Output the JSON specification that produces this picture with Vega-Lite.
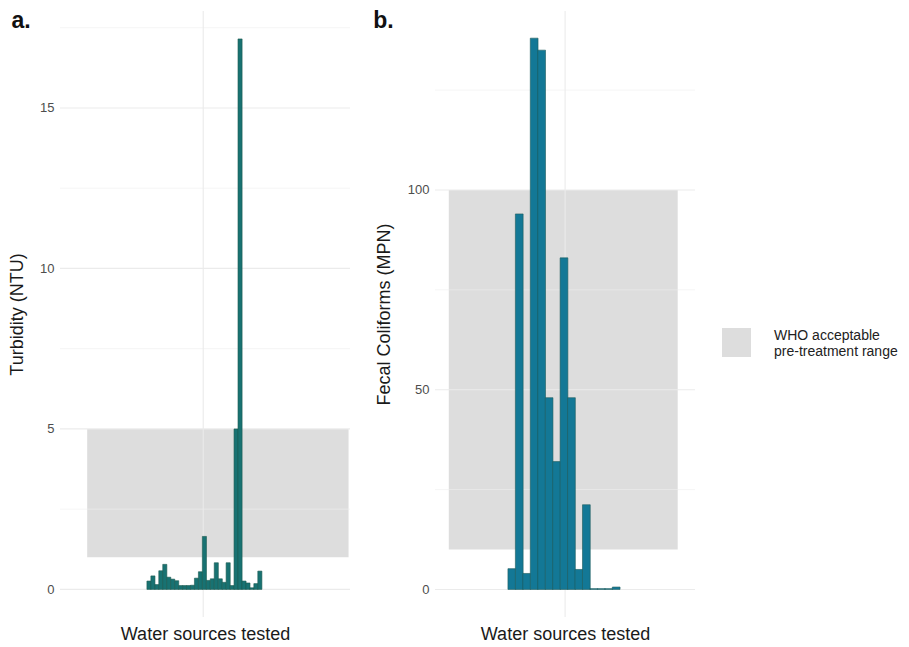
{
  "$schema": "https://vega.github.io/schema/vega-lite/v6.json",
  "autosize": {"type": "none"},
  "padding": {"left": 60, "top": 11, "right": 849, "bottom": 636},
  "background": "white",
  "config": {
    "font": "Liberation Sans",
    "view": {"stroke": null},
    "axis": {
      "labelFont": "Liberation Sans",
      "titleFont": "Liberation Sans",
      "labelColor": "#4d4d4d",
      "labelFontSize": 13,
      "titleColor": "#1a1a1a",
      "titleFontSize": 18,
      "titleFontWeight": "normal",
      "grid": false,
      "ticks": false,
      "domain": false,
      "labelPadding": 6
    },
    "legend": {
      "labelFont": "Liberation Sans",
      "labelFontSize": 14,
      "labelColor": "#222222"
    },
    "title": {"font": "Liberation Sans", "fontSize": 23, "fontWeight": "bold", "color": "#111111"}
  },
  "datasets": {
    "turb": [
      {"site": 1, "ntu": 0.26}, {"site": 2, "ntu": 0.42}, {"site": 3, "ntu": 0.15},
      {"site": 4, "ntu": 0.58}, {"site": 5, "ntu": 0.78}, {"site": 6, "ntu": 0.38},
      {"site": 7, "ntu": 0.32}, {"site": 8, "ntu": 0.27}, {"site": 9, "ntu": 0.12},
      {"site": 10, "ntu": 0.12}, {"site": 11, "ntu": 0.12}, {"site": 12, "ntu": 0.13},
      {"site": 13, "ntu": 0.35}, {"site": 14, "ntu": 0.55}, {"site": 15, "ntu": 1.65},
      {"site": 16, "ntu": 0.28}, {"site": 17, "ntu": 0.33}, {"site": 18, "ntu": 0.83},
      {"site": 19, "ntu": 0.33}, {"site": 20, "ntu": 0.22}, {"site": 21, "ntu": 0.83},
      {"site": 22, "ntu": 0.12}, {"site": 23, "ntu": 5.0}, {"site": 24, "ntu": 17.15},
      {"site": 25, "ntu": 0.26}, {"site": 26, "ntu": 0.2}, {"site": 27, "ntu": 0.05},
      {"site": 28, "ntu": 0.18}, {"site": 29, "ntu": 0.57}
    ],
    "fecal": [
      {"site": 1, "mpn": 5.2}, {"site": 2, "mpn": 94}, {"site": 3, "mpn": 4},
      {"site": 4, "mpn": 138}, {"site": 5, "mpn": 135}, {"site": 6, "mpn": 48},
      {"site": 7, "mpn": 32}, {"site": 8, "mpn": 83}, {"site": 9, "mpn": 48},
      {"site": 10, "mpn": 5}, {"site": 11, "mpn": 21.2}, {"site": 12, "mpn": 0.2},
      {"site": 13, "mpn": 0.2}, {"site": 14, "mpn": 0.2}, {"site": 15, "mpn": 0.6}
    ]
  },
  "spacing": 85,
  "bounds": "flush",
  "resolve": {"scale": {"fill": "shared"}},
  "hconcat": [
    {
      "width": 290,
      "height": 606,
      "title": {"text": "a.", "anchor": "start", "frame": "bounds", "offset": -23, "dx": 3},
      "layer": [
        {
          "data": {"values": [{"x0": -14.6, "x1": 51.4, "y0": 1, "y1": 5, "label": "WHO acceptable pre-treatment range"}]},
          "mark": {"type": "rect"},
          "encoding": {
            "x": {"field": "x0", "type": "quantitative", "scale": {"domain": [-20.2, 50.5], "nice": false, "zero": false},
                  "axis": {"title": "Water sources tested", "labels": false, "titlePadding": 8}},
            "x2": {"field": "x1"},
            "y": {"field": "y0", "type": "quantitative", "scale": {"domain": [-0.86, 18.02], "nice": false, "zero": false},
                  "axis": {"title": "Turbidity (NTU)", "values": [0, 5, 10, 15], "titlePadding": 13}},
            "y2": {"field": "y1"},
            "fill": {"field": "label", "type": "nominal", "scale": {"range": ["#dddddd"]}}
          }
        },
        {
          "data": {"values": [{"v": 2.5}, {"v": 7.5}, {"v": 12.5}, {"v": 17.5}]},
          "mark": {"type": "rule", "color": "#efefef", "strokeWidth": 0.6},
          "encoding": {"y": {"field": "v", "type": "quantitative"}}
        },
        {
          "data": {"values": [{"v": 0}, {"v": 5}, {"v": 10}, {"v": 15}]},
          "mark": {"type": "rule", "color": "#ebebeb", "strokeWidth": 1.1},
          "encoding": {"y": {"field": "v", "type": "quantitative"}}
        },
        {
          "data": {"values": [{"v": 14.7}]},
          "mark": {"type": "rule", "color": "#ebebeb", "strokeWidth": 1.1},
          "encoding": {"x": {"field": "v", "type": "quantitative"}}
        },
        {
          "data": {"name": "turb"},
          "mark": {"type": "bar", "orient": "vertical", "size": 4.1, "fill": "#187272", "stroke": "#1c5a50", "strokeWidth": 0.6},
          "encoding": {
            "x": {"field": "site", "type": "quantitative"},
            "y": {"field": "ntu", "type": "quantitative"}
          }
        }
      ]
    },
    {
      "width": 260,
      "height": 606,
      "title": {"text": "b.", "anchor": "start", "frame": "bounds", "offset": -23, "dx": -2},
      "layer": [
        {
          "data": {"values": [{"x0": -7.45, "x1": 23.25, "y0": 10, "y1": 100, "label": "WHO acceptable pre-treatment range"}]},
          "mark": {"type": "rect"},
          "encoding": {
            "x": {"field": "x0", "type": "quantitative", "scale": {"domain": [-8.63, 24.9], "nice": false, "zero": false},
                  "axis": {"title": "Water sources tested", "labels": false, "titlePadding": 8}},
            "x2": {"field": "x1"},
            "y": {"field": "y0", "type": "quantitative", "scale": {"domain": [-6.9, 144.8], "nice": false, "zero": false},
                  "axis": {"title": "Fecal Coliforms (MPN)", "values": [0, 50, 100], "titlePadding": 14}},
            "y2": {"field": "y1"},
            "fill": {"field": "label", "type": "nominal", "scale": {"range": ["#dddddd"]},
                     "legend": {"title": null, "orient": "none", "legendX": 662, "legendY": 317,
                                "symbolType": "square", "symbolSize": 841, "symbolStrokeWidth": 0,
                                "labelLimit": 0, "labelOffset": 23, "labelBaseline": "bottom",
                                "labelExpr": "['WHO acceptable', '\u00a0pre-treatment range']"}}
          }
        },
        {
          "data": {"values": [{"v": 25}, {"v": 75}, {"v": 125}]},
          "mark": {"type": "rule", "color": "#efefef", "strokeWidth": 0.6},
          "encoding": {"y": {"field": "v", "type": "quantitative"}}
        },
        {
          "data": {"values": [{"v": 0}, {"v": 50}, {"v": 100}]},
          "mark": {"type": "rule", "color": "#ebebeb", "strokeWidth": 1.1},
          "encoding": {"y": {"field": "v", "type": "quantitative"}}
        },
        {
          "data": {"values": [{"v": 8.15}]},
          "mark": {"type": "rule", "color": "#ebebeb", "strokeWidth": 1.1},
          "encoding": {"x": {"field": "v", "type": "quantitative"}}
        },
        {
          "data": {"name": "fecal"},
          "mark": {"type": "bar", "orient": "vertical", "size": 7.75, "fill": "#137896", "stroke": "#1f5c5c", "strokeWidth": 0.6},
          "encoding": {
            "x": {"field": "site", "type": "quantitative"},
            "y": {"field": "mpn", "type": "quantitative"}
          }
        }
      ]
    }
  ]
}
